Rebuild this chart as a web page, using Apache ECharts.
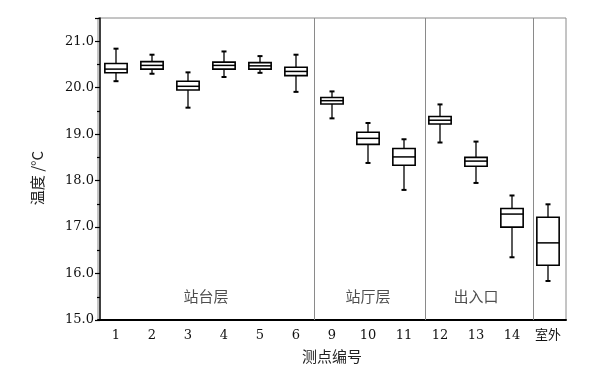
<!DOCTYPE html>
<html>
<head>
<meta charset="utf-8">
<script src="https://cdn.jsdelivr.net/npm/echarts@6/dist/echarts.min.js"></script>
<style>
html,body{margin:0;padding:0;background:#fff;}
#main{width:602px;height:375px;}
</style>
</head>
<body>
<div id="main"></div>
<script>
const categories = ['1','2','3','4','5','6','9','10','11','12','13','14','室外'];
const whiskerLow  = [20.14, 20.30, 19.57, 20.23, 20.32, 19.91, 19.34, 18.38, 17.80, 18.82, 17.95, 16.35, 15.84];
const quartile1   = [20.32, 20.40, 19.95, 20.40, 20.40, 20.26, 19.65, 18.78, 18.33, 19.22, 18.31, 17.00, 16.18];
const medians     = [20.40, 20.48, 20.03, 20.48, 20.47, 20.35, 19.72, 18.91, 18.51, 19.30, 18.42, 17.28, 16.66];
const quartile3   = [20.52, 20.56, 20.14, 20.55, 20.54, 20.44, 19.79, 19.04, 18.69, 19.38, 18.50, 17.40, 17.21];
const whiskerHigh = [20.84, 20.71, 20.33, 20.78, 20.68, 20.71, 19.92, 19.24, 18.89, 19.64, 18.84, 17.68, 17.49];
const groupNames = ['站台层', '站厅层', '出入口'];
const groupCenters = [3, 7.5, 10.5];
const groupLabelY = 15.5;
const separators = [6, 9.1, 12.1];
const yTicks = [15, 16, 17, 18, 19, 20, 21];

const boxData = categories.map((c, i) => [i, whiskerLow[i], quartile1[i], medians[i], quartile3[i], whiskerHigh[i]]);
const labelData = groupNames.map((n, i) => [groupCenters[i], groupLabelY, n]);

const numFont = 'DejaVu Serif, Noto Sans CJK SC';
const chart = echarts.init(document.getElementById('main'), null, {renderer: 'canvas'});
chart.setOption({
  animation: false,
  backgroundColor: '#fff',
  grid: {left: 98, width: 468, top: 18, height: 302, show: true, borderColor: '#8a8a8a', borderWidth: 1, containLabel: false},
  xAxis: [{
    type: 'category', data: categories, boundaryGap: true,
    name: '测点编号', nameLocation: 'middle', nameGap: 29,
    nameTextStyle: {fontFamily: 'Noto Sans CJK SC', fontSize: 15, color: '#222'},
    axisLine: {lineStyle: {color: '#000', width: 2}},
    axisTick: {alignWithLabel: true, length: 5, lineStyle: {color: '#000', width: 1.5}},
    axisLabel: {fontFamily: numFont, fontSize: 13, color: '#111', margin: 9},
    splitLine: {show: false}
  }, {
    type: 'value', min: 0, max: 13, show: false, splitLine: {show: false}
  }],
  yAxis: {
    type: 'value', min: 15, max: 21.5, interval: 1, offset: -2,
    name: '温度 /°C', nameLocation: 'middle', nameGap: 55, nameRotate: 90,
    nameTextStyle: {fontFamily: 'Noto Sans CJK SC', fontSize: 15, color: '#222', padding: [0, 18, 0, 0]},
    axisLine: {show: true, lineStyle: {color: '#000', width: 1.5}},
    axisTick: {show: true, length: 5, lineStyle: {color: '#000', width: 1.2}},
    minorTick: {show: true, splitNumber: 2, length: 3, lineStyle: {color: '#000', width: 1.2}},
    axisLabel: {fontFamily: numFont, fontSize: 13, color: '#111', margin: 6,
      formatter: v => yTicks.indexOf(v) >= 0 ? v.toFixed(1) : ''},
    splitLine: {show: false}
  },
  series: [{
    type: 'custom',
    xAxisIndex: 0, yAxisIndex: 0,
    data: boxData,
    renderItem: function (params, api) {
      const x = api.value(0);
      const lo = api.coord([x, api.value(1)]);
      const q1 = api.coord([x, api.value(2)]);
      const md = api.coord([x, api.value(3)]);
      const q3 = api.coord([x, api.value(4)]);
      const hi = api.coord([x, api.value(5)]);
      const bw = api.size([1, 0])[0] * 0.62;
      const cw = 5;
      const cx = lo[0];
      const st = {stroke: '#000', lineWidth: 1.3, fill: null};
      return {type: 'group', children: [
        {type: 'line', shape: {x1: cx, y1: hi[1], x2: cx, y2: q3[1]}, style: st},
        {type: 'line', shape: {x1: cx, y1: q1[1], x2: cx, y2: lo[1]}, style: st},
        {type: 'line', shape: {x1: cx - cw / 2, y1: hi[1], x2: cx + cw / 2, y2: hi[1]}, style: {stroke: '#000', lineWidth: 2}},
        {type: 'line', shape: {x1: cx - cw / 2, y1: lo[1], x2: cx + cw / 2, y2: lo[1]}, style: {stroke: '#000', lineWidth: 2}},
        {type: 'rect', shape: {x: cx - bw / 2, y: q3[1], width: bw, height: q1[1] - q3[1]}, style: {stroke: '#000', lineWidth: 1.6, fill: '#fff'}},
        {type: 'line', shape: {x1: cx - bw / 2, y1: md[1], x2: cx + bw / 2, y2: md[1]}, style: {stroke: '#000', lineWidth: 1.5}}
      ]};
    },
    z: 3
  }, {
    type: 'line', xAxisIndex: 1, yAxisIndex: 0, data: [],
    markLine: {
      silent: true, symbol: 'none', animation: false,
      label: {show: false},
      lineStyle: {color: '#8a8a8a', width: 1, type: 'solid'},
      data: separators.map(s => ({xAxis: s}))
    }
  }, {
    type: 'scatter', xAxisIndex: 1, yAxisIndex: 0,
    data: labelData, symbolSize: 0,
    label: {show: true, position: 'inside', formatter: p => p.value[2],
      fontFamily: 'Noto Sans CJK SC', fontSize: 15, color: '#222'}
  }]
});
</script>
</body>
</html>
